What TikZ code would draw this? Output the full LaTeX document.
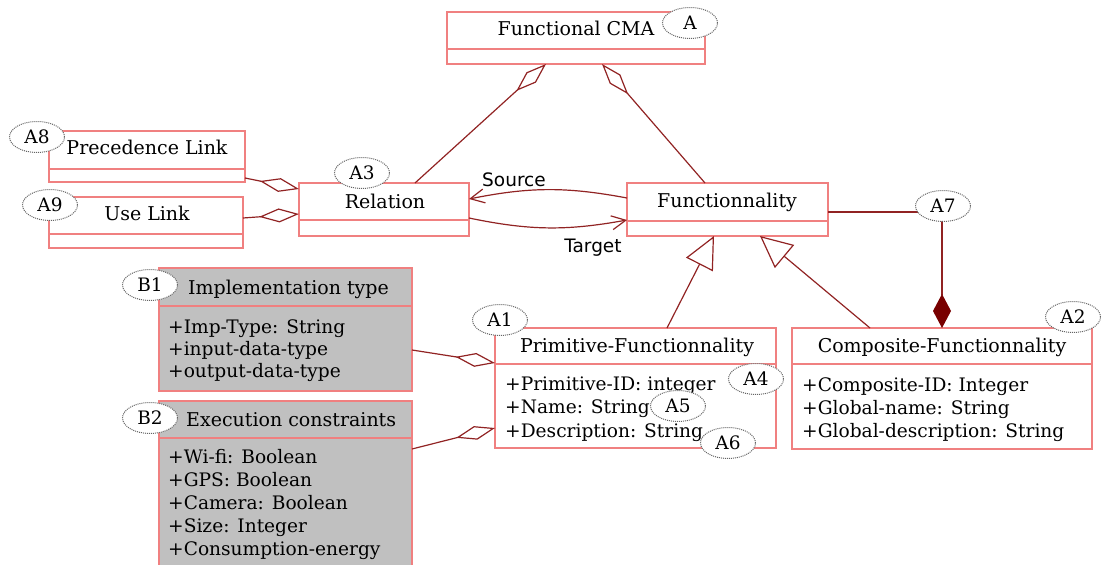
\documentclass[tikz,border=0pt]{standalone}
\usepackage{fontspec}
\setmainfont{DejaVu Serif}
\newfontfamily\rolefont{DejaVu Sans}
\usetikzlibrary{arrows.meta,shapes.geometric}

\definecolor{edgepink}{RGB}{240,128,128}
\definecolor{linkred}{RGB}{145,35,35}
\definecolor{compred}{RGB}{120,0,0}
\definecolor{boxgray}{RGB}{192,192,192}
\definecolor{notegray}{RGB}{100,100,100}

\begin{document}
\begin{tikzpicture}[x=1pt,y=-1pt,
  cls/.style={draw=edgepink, line width=1.3pt, fill=white, inner sep=0pt, outer sep=0pt},
  graycls/.style={cls, fill=boxgray},
  divider/.style={draw=edgepink, line width=1.3pt},
  title/.style={font=\fontsize{19}{22}\selectfont, inner sep=0pt, anchor=base},
  attrs/.style={font=\fontsize{18.6}{#1}\selectfont, align=left, inner sep=0pt, anchor=base west},
  note/.style={ellipse, draw=notegray, densely dotted, line width=1pt, fill=white,
    minimum width=55pt, minimum height=31pt, inner sep=0pt,
    font=\fontsize{18.5}{20}\selectfont},
  role/.style={font=\rolefont\fontsize{18.5}{21}\selectfont, inner sep=0pt, anchor=base},
  link/.style={draw=linkred, line width=1.2pt},
  agg/.style={link, -{Diamond[open, length=40pt, width=14pt]}},
  nav/.style={link, -{Straight Barb[length=14pt, width=14pt]}},
  gen/.style={link, -{Triangle[open, length=32pt, width=30pt]}},
  compo/.style={link, -{Diamond[length=34pt, width=18pt, fill=compred, color=compred]}}
]
\useasboundingbox (0,0) rectangle (1104,565);
\clip (0,0) rectangle (1104,565);

% class boxes
\node[cls, minimum width=258pt, minimum height=52pt] (fcma) at (576,38) {};
\node[cls, minimum width=196pt, minimum height=51pt] (prec) at (147,156.5) {};
\node[cls, minimum width=194pt, minimum height=51pt] (use) at (146,222.5) {};
\node[cls, minimum width=170pt, minimum height=53pt] (rel) at (384,209.5) {};
\node[cls, minimum width=201pt, minimum height=53pt] (func) at (727.5,209.5) {};
\node[cls, minimum width=281pt, minimum height=120pt] (prim) at (635.5,388) {};
\node[cls, minimum width=300pt, minimum height=121pt] (comp) at (942,388.5) {};
\node[graycls, minimum width=253pt, minimum height=123pt] (impl) at (285.5,329.5) {};
\node[graycls, minimum width=253pt, minimum height=174pt] (exec) at (285.5,488) {};

% compartment dividers
\draw[divider] ([yshift=-37pt]fcma.north west) -- ([yshift=-37pt]fcma.north east);
\draw[divider] ([yshift=-38pt]prec.north west) -- ([yshift=-38pt]prec.north east);
\draw[divider] ([yshift=-37pt]use.north west) -- ([yshift=-37pt]use.north east);
\draw[divider] ([yshift=-37pt]rel.north west) -- ([yshift=-37pt]rel.north east);
\draw[divider] ([yshift=-38pt]func.north west) -- ([yshift=-38pt]func.north east);
\draw[divider] ([yshift=-36pt]prim.north west) -- ([yshift=-36pt]prim.north east);
\draw[divider] ([yshift=-36pt]comp.north west) -- ([yshift=-36pt]comp.north east);
\draw[divider] ([yshift=-38pt]impl.north west) -- ([yshift=-38pt]impl.north east);
\draw[divider] ([yshift=-37pt]exec.north west) -- ([yshift=-37pt]exec.north east);

% class names
\node[title] (fcma-t) at (576,35) {Functional CMA};
\node[title] (prec-t) at (147,154) {Precedence Link};
\node[title] (use-t) at (147,220) {Use Link};
\node[title] (rel-t) at (385,208) {Relation};
\node[title] (func-t) at (727,207) {Functionnality};
\node[title] (prim-t) at (637,352) {Primitive-Functionnality};
\node[title] (comp-t) at (942,352) {Composite-Functionnality};
\node[title, anchor=base west] (impl-t) at (188,294) {Implementation type};
\node[title, anchor=base west] (exec-t) at (186,426) {Execution constraints};

% attributes (anchored at the baseline of the last line)
\node[attrs=23.5] (prim-a) at (505,437) {+Primitive-ID: integer\\+Name: String\\+Description: String};
\node[attrs=23] (comp-a) at (802,437) {+Composite-ID: Integer\\+Global-name: String\\+Global-description: String};
\node[attrs=22] (impl-a) at (168,377) {+Imp-Type: String\\+input-data-type\\+output-data-type};
\node[attrs=23] (exec-a) at (168,555) {+Wi-fi: Boolean\\+GPS: Boolean\\+Camera: Boolean\\+Size: Integer\\+Consumption-energy};

% aggregations
\draw[agg] ([xshift=31pt]rel.north) -- ([xshift=-30pt]fcma.south);
\draw[agg] ([xshift=-22.5pt]func.north) -- ([xshift=26pt]fcma.south);
\draw[agg] ([yshift=-21.5pt]prec.east) -- ([yshift=20.5pt]rel.west);
\draw[agg] ([yshift=4.5pt]use.east) -- ([yshift=-4.5pt]rel.west);
\draw[agg] ([yshift=-20.5pt]impl.east) -- ([yshift=25pt]prim.west);
\draw[agg] ([yshift=39pt]exec.east) -- ([yshift=-40pt]prim.west);

% navigable associations
\draw[nav] ([yshift=11.5pt]func.west) to[bend right=11] ([yshift=10.5pt]rel.east);
\draw[nav] ([yshift=-8.5pt]rel.east) to[bend right=11] ([yshift=-10.5pt]func.west);
\node[role] (src) at (514,186) {Source};
\node[role] (tgt) at (593,252) {Target};

% generalizations
\draw[gen] ([xshift=31.5pt]prim.north) -- ([xshift=-13.5pt]func.south);
\draw[gen] ([xshift=-72pt]comp.north) -- ([xshift=32.5pt]func.south);

% composition
\draw[compo] ([yshift=-2.5pt]func.east) -| (comp.north);

% annotation tags
\node[note] (nA) at (690,23) {A};
\node[note] (nA8) at (37,137) {A8};
\node[note] (nA9) at (50,205) {A9};
\node[note] (nA3) at (362,173) {A3};
\node[note] (nA7) at (943,206) {A7};
\node[note] (nA1) at (500,320) {A1};
\node[note] (nA2) at (1073,317) {A2};
\node[note] (nA4) at (756,379) {A4};
\node[note] (nA5) at (678,406) {A5};
\node[note] (nA6) at (728,443) {A6};
\node[note] (nB1) at (150,285) {B1};
\node[note] (nB2) at (150,418) {B2};
\end{tikzpicture}
\end{document}
